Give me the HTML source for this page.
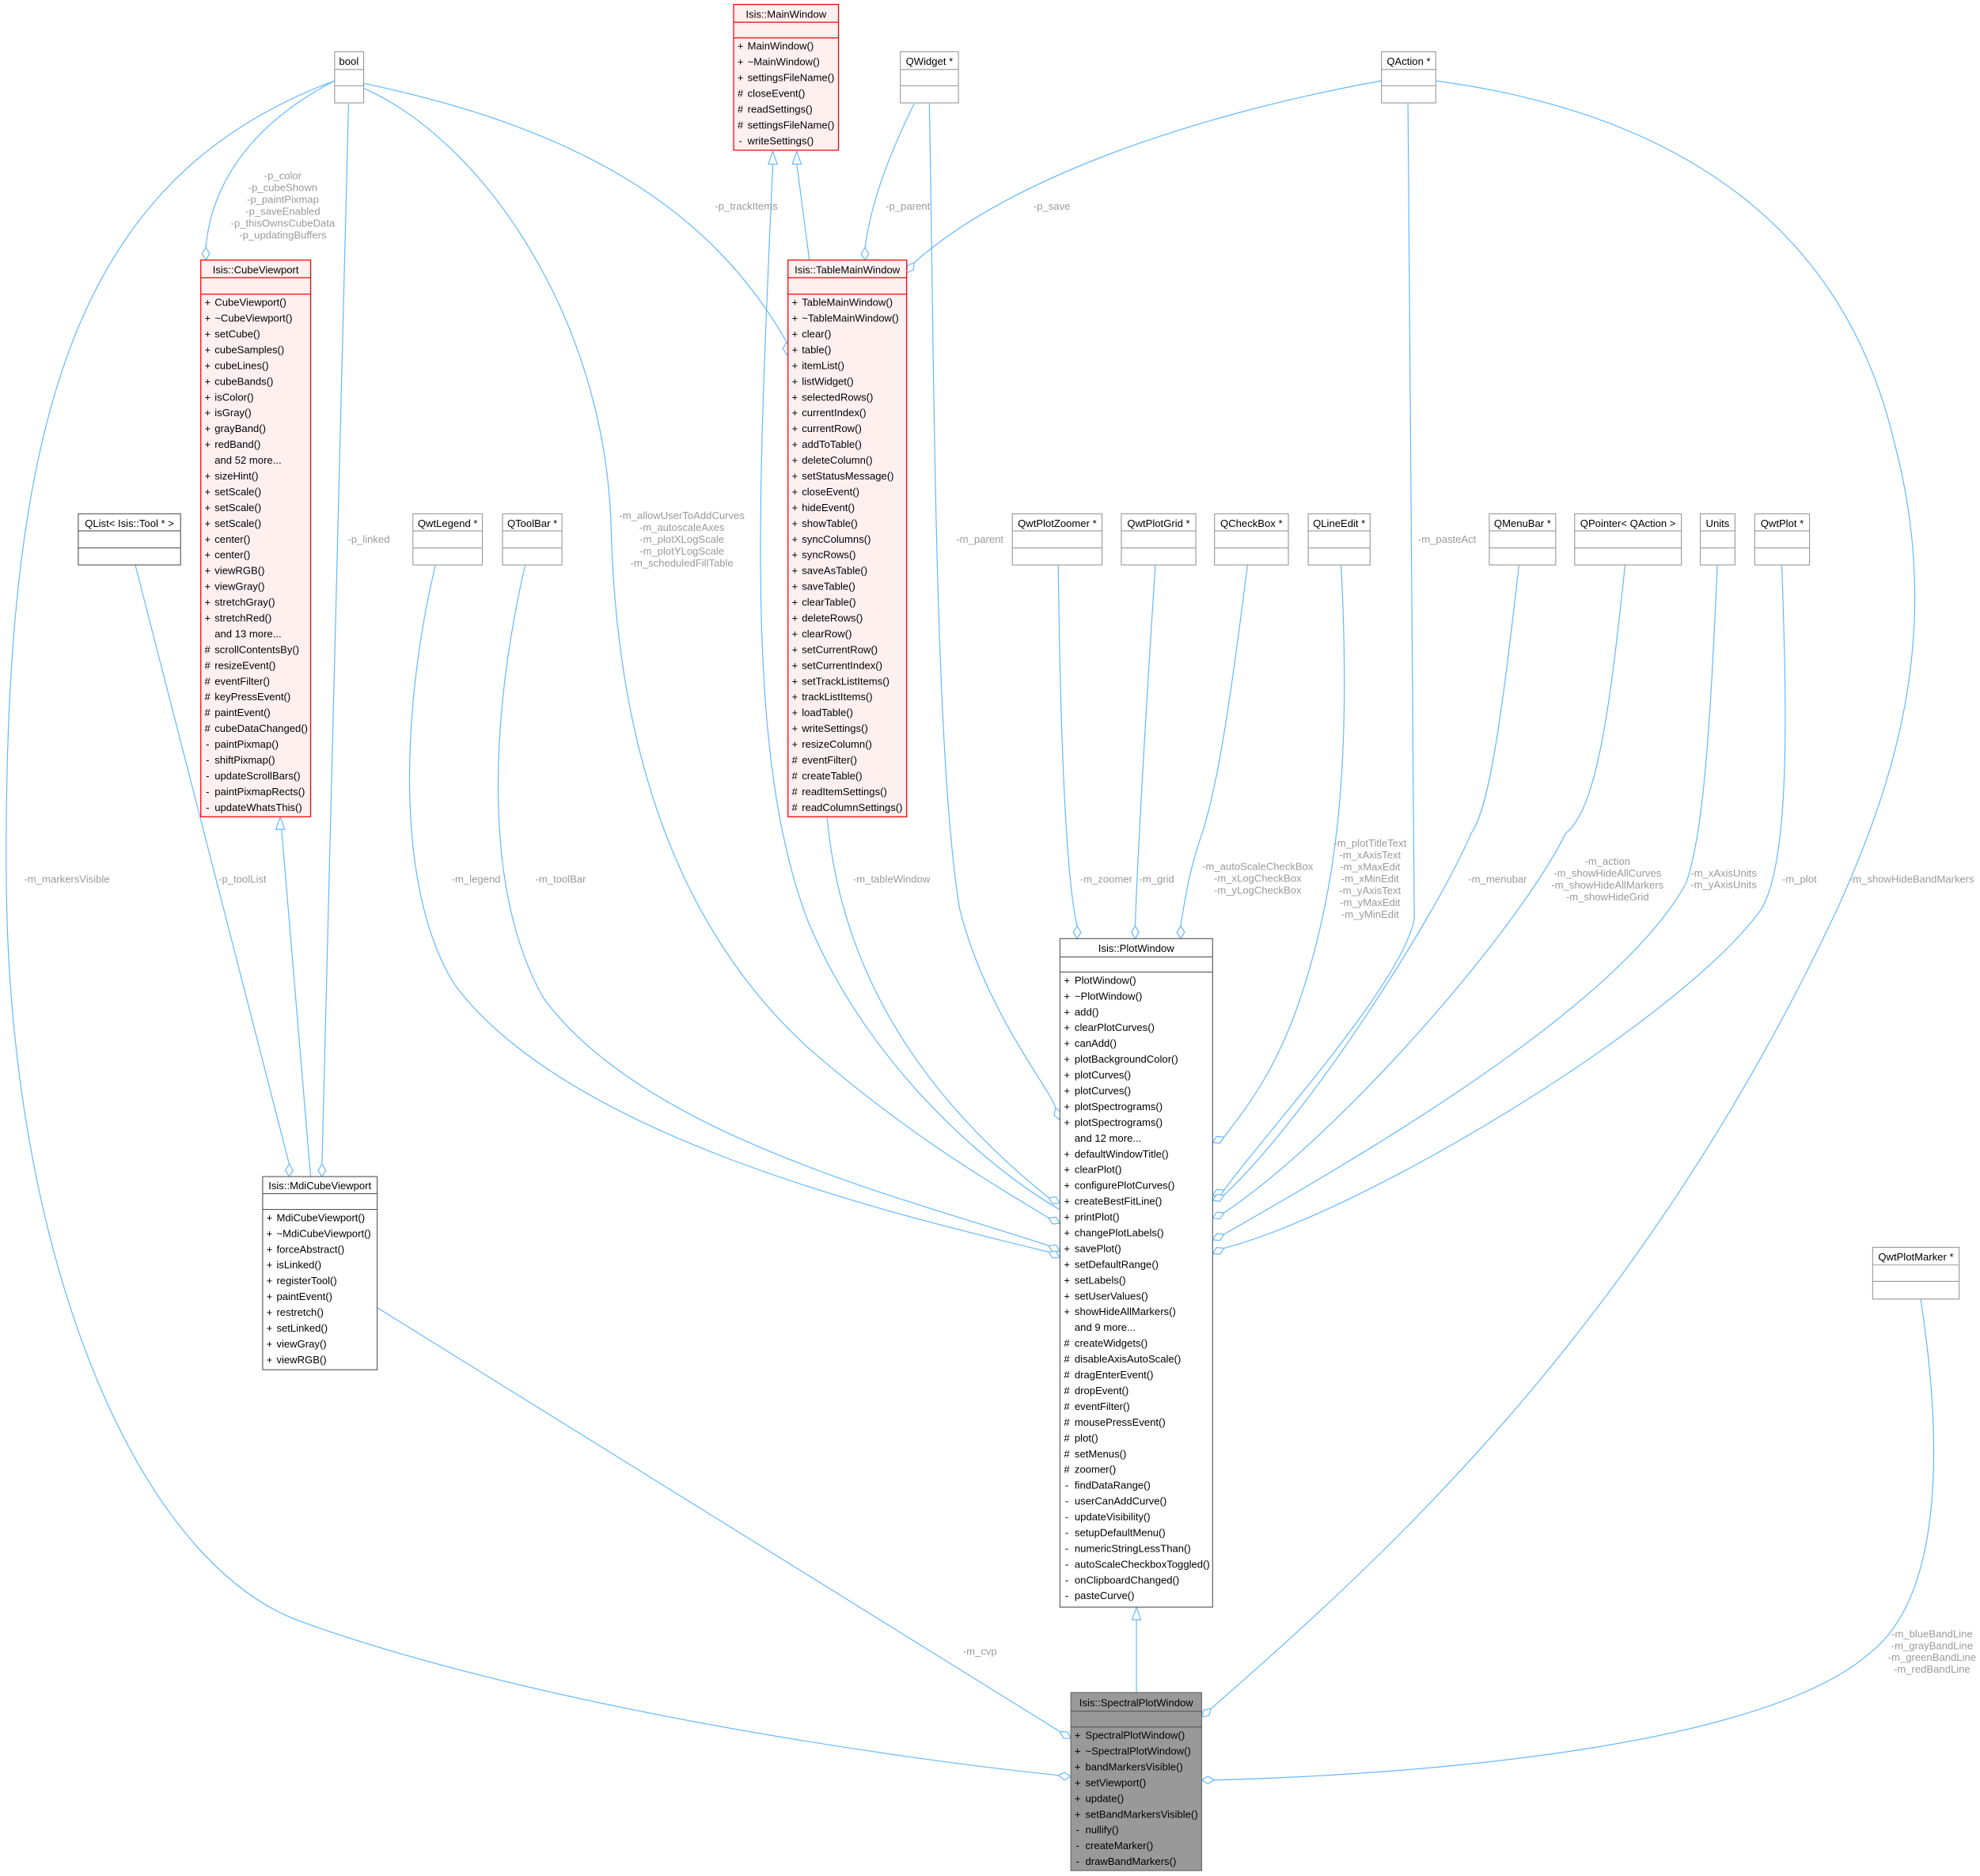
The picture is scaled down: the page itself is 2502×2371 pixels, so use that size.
<!DOCTYPE html>
<html><head><meta charset="utf-8"><style>
html,body{margin:0;padding:0;background:#fff;}
svg{display:block;}
text{font-family:"Liberation Sans",Helvetica,sans-serif;font-size:8.2px;fill:#000;}
.l{fill:#9a9a9a;text-anchor:middle;}
.h{text-anchor:middle;}
.e{fill:none;stroke:#63b8ff;stroke-width:0.75;}
.d{fill:#fff;stroke:#63b8ff;stroke-width:0.75;}
.g{fill:#fff;stroke:#999;stroke-width:0.7;}
.r{fill:#fff0f0;stroke:#ff0000;stroke-width:0.8;}
.rl{stroke:#ff0000;stroke-width:0.8;}
.gl{stroke:#999;stroke-width:0.7;}
.k{fill:#fff;stroke:#555;stroke-width:0.7;}
.kl{stroke:#555;stroke-width:0.7;}
</style></head><body>
<svg width="2502" height="2371" viewBox="0 0 1568 1486" preserveAspectRatio="none" xmlns="http://www.w3.org/2000/svg">
<rect width="1568" height="1486" fill="#fff"/>

<!-- edges -->
<path class="e" d="M265,64 C60,140 2,330 5,700 C8,1000 110,1240 240,1285 C420,1350 700,1392 838,1406.2"/>
<path class="e" d="M265,64 C205,95 168,140 163,196"/>
<path class="e" d="M276,82 L255,922"/>
<path class="e" d="M288,70 C380,110 480,250 484,420 C488,560 520,720 640,830 C720,900 790,940 830.4,964.7"/>
<path class="e" d="M288,66 C450,100 560,160 623,271"/>
<path class="e" d="M724,82 C703,125 690,160 685,196"/>
<path class="e" d="M1094,64 C950,90 800,140 724,208"/>
<path class="e" d="M641,206 L631,130"/>
<path class="e" d="M612,130 C600,400 590,600 640,730 C690,850 790,930 839,958"/>
<path class="e" d="M655,647 C665,760 720,860 830.4,948.7"/>
<path class="e" d="M736,82 C740,300 740,600 760,720 C780,800 830,860 836,877.5"/>
<path class="e" d="M107,447 L229,922"/>
<path class="e" d="M246,932 L223,657"/>
<path class="e" d="M345,447 C320,550 310,700 360,780 C450,900 700,960 830.4,991.7"/>
<path class="e" d="M416,447 C390,560 380,700 430,790 C510,900 720,950 830.4,986.7"/>
<path class="e" d="M299,1036 L839.5,1371.7"/>
<path class="e" d="M838,447 C840,600 845,700 853,733.5"/>
<path class="e" d="M915,447 C905,600 900,700 899,733.5"/>
<path class="e" d="M988,447 C975,550 965,620 952,660 C945,680 940,700 935,733.5"/>
<path class="e" d="M1062,447 C1070,600 1060,700 1030,790 C1010,850 985,880 969.3,900.7"/>
<path class="e" d="M1115,82 L1120,728 C1110,780 1000,900 969.3,942.7"/>
<path class="e" d="M1203,447 C1190,560 1180,640 1165,660 C1140,720 1040,880 969.3,946.7"/>
<path class="e" d="M1287,447 C1275,560 1265,640 1240,660 C1200,740 1060,900 969.3,960.7"/>
<path class="e" d="M1360,447 C1355,560 1350,660 1335,700 C1280,800 1070,920 969.3,977.7"/>
<path class="e" d="M1411,447 C1415,560 1418,680 1395,720 C1330,810 1080,960 969.3,988.7"/>
<path class="e" d="M1137,64 C1330,90 1460,180 1500,350 C1540,500 1500,620 1455,720 C1300,1050 1100,1230 959.1,1353.4"/>
<path class="e" d="M900,1283 L900,1341"/>
<path class="e" d="M1521,1029 C1535,1120 1545,1260 1480,1310 C1400,1380 1150,1405 961.6,1410"/>

<!-- triangles -->
<polygon class="d" points="631,120 627.5,130 634.5,130"/>
<polygon class="d" points="612,120 608.5,130 615.5,130"/>
<polygon class="d" points="222,647 218.5,657 225.5,657"/>
<polygon class="d" points="900,1273 896.5,1283 903.5,1283"/>

<!-- diamonds -->
<polygon class="d" points="163,206 160,201 163,196 166,201"/>
<polygon class="d" points="229,932 226,927 229,922 232,927"/>
<polygon class="d" points="255,932 252,927 255,922 258,927"/>
<polygon class="d" points="685,206 682,201 685,196 688,201"/>
<polygon class="d" points="718,216 723.4,213.8 724,208 718.6,210.2"/>
<polygon class="d" points="623,281 620,276 623,271 626,276"/>
<polygon class="d" points="853,743.5 850,738.5 853,733.5 856,738.5"/>
<polygon class="d" points="899,743.5 896,738.5 899,733.5 902,738.5"/>
<polygon class="d" points="935,743.5 932,738.5 935,733.5 938,738.5"/>
<polygon class="d" points="839,887 840.4,881.4 836,877.5 834.7,883.2"/>
<polygon class="d" points="839.4,953 836.2,948.15 830.4,948.7 833.6,953.55"/>
<polygon class="d" points="839.4,969 836.2,964.15 830.4,964.7 833.6,969.55"/>
<polygon class="d" points="839.4,991 836.2,986.15 830.4,986.7 833.6,991.55"/>
<polygon class="d" points="839.4,996 836.2,991.15 830.4,991.7 833.6,996.55"/>
<polygon class="d" points="960.3,905 966.1,905.55 969.3,900.7 963.5,900.15"/>
<polygon class="d" points="960.3,947 966.1,947.55 969.3,942.7 963.5,942.15"/>
<polygon class="d" points="960.3,951 966.1,951.55 969.3,946.7 963.5,946.15"/>
<polygon class="d" points="960.3,965 966.1,965.55 969.3,960.7 963.5,960.15"/>
<polygon class="d" points="960.3,982 966.1,982.55 969.3,977.7 963.5,977.15"/>
<polygon class="d" points="960.3,993 966.1,993.55 969.3,988.7 963.5,988.15"/>
<polygon class="d" points="848,1377 845.35,1371.8 839.5,1371.7 842.15,1376.9"/>
<polygon class="d" points="848,1407 843,1404 838,1406.2 843,1410"/>
<polygon class="d" points="951.6,1360 957.35,1358.95 959.1,1353.4 953.35,1354.45"/>
<polygon class="d" points="951.6,1410 956.6,1407 961.6,1410 956.6,1413"/>

<!-- edge labels -->
<text class="l" x="224" y="142">-p_color</text>
<text class="l" x="224" y="151.4">-p_cubeShown</text>
<text class="l" x="224" y="160.8">-p_paintPixmap</text>
<text class="l" x="224" y="170.2">-p_saveEnabled</text>
<text class="l" x="224" y="179.6">-p_thisOwnsCubeData</text>
<text class="l" x="224" y="189">-p_updatingBuffers</text>
<text class="l" x="591" y="166">-p_trackItems</text>
<text class="l" x="719" y="166">-p_parent</text>
<text class="l" x="833" y="166">-p_save</text>
<text class="l" x="292" y="430">-p_linked</text>
<text class="l" x="540" y="411">-m_allowUserToAddCurves</text>
<text class="l" x="540" y="420.4">-m_autoscaleAxes</text>
<text class="l" x="540" y="429.8">-m_plotXLogScale</text>
<text class="l" x="540" y="439.2">-m_plotYLogScale</text>
<text class="l" x="540" y="448.6">-m_scheduledFillTable</text>
<text class="l" x="776" y="430">-m_parent</text>
<text class="l" x="1146" y="430">-m_pasteAct</text>
<text class="l" x="53" y="699">-m_markersVisible</text>
<text class="l" x="192" y="699">-p_toolList</text>
<text class="l" x="377" y="699">-m_legend</text>
<text class="l" x="444" y="699">-m_toolBar</text>
<text class="l" x="706" y="699">-m_tableWindow</text>
<text class="l" x="876" y="699">-m_zoomer</text>
<text class="l" x="916" y="699">-m_grid</text>
<text class="l" x="996" y="689">-m_autoScaleCheckBox</text>
<text class="l" x="996" y="698.5">-m_xLogCheckBox</text>
<text class="l" x="996" y="708">-m_yLogCheckBox</text>
<text class="l" x="1085" y="670.5">-m_plotTitleText</text>
<text class="l" x="1085" y="679.9">-m_xAxisText</text>
<text class="l" x="1085" y="689.3">-m_xMaxEdit</text>
<text class="l" x="1085" y="698.7">-m_xMinEdit</text>
<text class="l" x="1085" y="708.1">-m_yAxisText</text>
<text class="l" x="1085" y="717.5">-m_yMaxEdit</text>
<text class="l" x="1085" y="726.9">-m_yMinEdit</text>
<text class="l" x="1186" y="699">-m_menubar</text>
<text class="l" x="1273" y="685">-m_action</text>
<text class="l" x="1273" y="694.4">-m_showHideAllCurves</text>
<text class="l" x="1273" y="703.8">-m_showHideAllMarkers</text>
<text class="l" x="1273" y="713.2">-m_showHideGrid</text>
<text class="l" x="1365" y="694.5">-m_xAxisUnits</text>
<text class="l" x="1365" y="703.5">-m_yAxisUnits</text>
<text class="l" x="1425" y="699">-m_plot</text>
<text class="l" x="1514" y="699">-m_showHideBandMarkers</text>
<text class="l" x="776" y="1310.7">-m_cvp</text>
<text class="l" x="1530" y="1297">-m_blueBandLine</text>
<text class="l" x="1530" y="1306.3">-m_grayBandLine</text>
<text class="l" x="1530" y="1315.6">-m_greenBandLine</text>
<text class="l" x="1530" y="1324.9">-m_redBandLine</text>

<!-- simple gray boxes -->
<rect class="g" x="265" y="41" width="23" height="40.5"/><line class="gl" x1="265" y1="55" x2="288" y2="55"/><line class="gl" x1="265" y1="68" x2="288" y2="68"/><text x="268.5" y="51.5">bool</text>
<rect class="g" x="713" y="41" width="46" height="40.5"/><line class="gl" x1="713" y1="55" x2="759" y2="55"/><line class="gl" x1="713" y1="68" x2="759" y2="68"/><text class="h" x="736" y="51.5">QWidget *</text>
<rect class="g" x="1094" y="41" width="43" height="40.5"/><line class="gl" x1="1094" y1="55" x2="1137" y2="55"/><line class="gl" x1="1094" y1="68" x2="1137" y2="68"/><text class="h" x="1115.5" y="51.5">QAction *</text>

<rect class="k" x="62" y="407" width="81" height="40.5"/><line class="kl" x1="62" y1="420.5" x2="143" y2="420.5"/><line class="kl" x1="62" y1="434" x2="143" y2="434"/><text class="h" x="102.5" y="417.5">QList&lt; Isis::Tool * &gt;</text>
<rect class="g" x="327" y="407" width="55" height="40.5"/><line class="gl" x1="327" y1="420.5" x2="382" y2="420.5"/><line class="gl" x1="327" y1="434" x2="382" y2="434"/><text class="h" x="354.5" y="417.5">QwtLegend *</text>
<rect class="g" x="398" y="407" width="47" height="40.5"/><line class="gl" x1="398" y1="420.5" x2="445" y2="420.5"/><line class="gl" x1="398" y1="434" x2="445" y2="434"/><text class="h" x="421.5" y="417.5">QToolBar *</text>
<rect class="g" x="801.7" y="407" width="71" height="40.5"/><line class="gl" x1="801.7" y1="420.5" x2="872.7" y2="420.5"/><line class="gl" x1="801.7" y1="434" x2="872.7" y2="434"/><text class="h" x="837.2" y="417.5">QwtPlotZoomer *</text>
<rect class="g" x="888" y="407" width="59" height="40.5"/><line class="gl" x1="888" y1="420.5" x2="947" y2="420.5"/><line class="gl" x1="888" y1="434" x2="947" y2="434"/><text class="h" x="917.5" y="417.5">QwtPlotGrid *</text>
<rect class="g" x="961.8" y="407" width="58.5" height="40.5"/><line class="gl" x1="961.8" y1="420.5" x2="1020.3" y2="420.5"/><line class="gl" x1="961.8" y1="434" x2="1020.3" y2="434"/><text class="h" x="991" y="417.5">QCheckBox *</text>
<rect class="g" x="1036" y="407" width="49" height="40.5"/><line class="gl" x1="1036" y1="420.5" x2="1085" y2="420.5"/><line class="gl" x1="1036" y1="434" x2="1085" y2="434"/><text class="h" x="1060.5" y="417.5">QLineEdit *</text>
<rect class="g" x="1179.4" y="407" width="52.6" height="40.5"/><line class="gl" x1="1179.4" y1="420.5" x2="1232" y2="420.5"/><line class="gl" x1="1179.4" y1="434" x2="1232" y2="434"/><text class="h" x="1205.7" y="417.5">QMenuBar *</text>
<rect class="g" x="1247" y="407" width="84.5" height="40.5"/><line class="gl" x1="1247" y1="420.5" x2="1331.5" y2="420.5"/><line class="gl" x1="1247" y1="434" x2="1331.5" y2="434"/><text class="h" x="1289.2" y="417.5">QPointer&lt; QAction &gt;</text>
<rect class="g" x="1346.5" y="407" width="27.5" height="40.5"/><line class="gl" x1="1346.5" y1="420.5" x2="1374" y2="420.5"/><line class="gl" x1="1346.5" y1="434" x2="1374" y2="434"/><text class="h" x="1360.2" y="417.5">Units</text>
<rect class="g" x="1389.6" y="407" width="43.4" height="40.5"/><line class="gl" x1="1389.6" y1="420.5" x2="1433" y2="420.5"/><line class="gl" x1="1389.6" y1="434" x2="1433" y2="434"/><text class="h" x="1411.3" y="417.5">QwtPlot *</text>
<rect class="g" x="1483" y="988" width="68.5" height="41"/><line class="gl" x1="1483" y1="1002" x2="1551.5" y2="1002"/><line class="gl" x1="1483" y1="1015" x2="1551.5" y2="1015"/><text class="h" x="1517.2" y="998.5">QwtPlotMarker *</text>

<!-- MainWindow -->
<rect class="r" x="581" y="3.5" width="83" height="115.5"/>
<line class="rl" x1="581" y1="17.6" x2="664" y2="17.6"/><line class="rl" x1="581" y1="30" x2="664" y2="30"/>
<text class="h" x="622.5" y="14">Isis::MainWindow</text>
<text x="584" y="39.3"><tspan x="584">+</tspan><tspan x="584" dy="12.5">+</tspan><tspan x="584" dy="12.5">+</tspan><tspan x="584" dy="12.5">#</tspan><tspan x="584" dy="12.5">#</tspan><tspan x="584" dy="12.5">#</tspan><tspan x="585" dy="12.5">-</tspan></text>
<text x="592" y="39.3"><tspan x="592">MainWindow()</tspan><tspan x="592" dy="12.5">~MainWindow()</tspan><tspan x="592" dy="12.5">settingsFileName()</tspan><tspan x="592" dy="12.5">closeEvent()</tspan><tspan x="592" dy="12.5">readSettings()</tspan><tspan x="592" dy="12.5">settingsFileName()</tspan><tspan x="592" dy="12.5">writeSettings()</tspan></text>

<!-- CubeViewport -->
<rect class="r" x="159" y="206" width="87" height="441"/>
<line class="rl" x1="159" y1="220" x2="246" y2="220"/><line class="rl" x1="159" y1="233" x2="246" y2="233"/>
<text class="h" x="202.5" y="216.5">Isis::CubeViewport</text>
<text x="162" y="242.3"><tspan x="162">+</tspan><tspan x="162" dy="12.5">+</tspan><tspan x="162" dy="12.5">+</tspan><tspan x="162" dy="12.5">+</tspan><tspan x="162" dy="12.5">+</tspan><tspan x="162" dy="12.5">+</tspan><tspan x="162" dy="12.5">+</tspan><tspan x="162" dy="12.5">+</tspan><tspan x="162" dy="12.5">+</tspan><tspan x="162" dy="12.5">+</tspan><tspan x="162" dy="12.5"> </tspan><tspan x="162" dy="12.5">+</tspan><tspan x="162" dy="12.5">+</tspan><tspan x="162" dy="12.5">+</tspan><tspan x="162" dy="12.5">+</tspan><tspan x="162" dy="12.5">+</tspan><tspan x="162" dy="12.5">+</tspan><tspan x="162" dy="12.5">+</tspan><tspan x="162" dy="12.5">+</tspan><tspan x="162" dy="12.5">+</tspan><tspan x="162" dy="12.5">+</tspan><tspan x="162" dy="12.5"> </tspan><tspan x="162" dy="12.5">#</tspan><tspan x="162" dy="12.5">#</tspan><tspan x="162" dy="12.5">#</tspan><tspan x="162" dy="12.5">#</tspan><tspan x="162" dy="12.5">#</tspan><tspan x="162" dy="12.5">#</tspan><tspan x="163" dy="12.5">-</tspan><tspan x="163" dy="12.5">-</tspan><tspan x="163" dy="12.5">-</tspan><tspan x="163" dy="12.5">-</tspan><tspan x="163" dy="12.5">-</tspan></text>
<text x="170" y="242.3"><tspan x="170">CubeViewport()</tspan><tspan x="170" dy="12.5">~CubeViewport()</tspan><tspan x="170" dy="12.5">setCube()</tspan><tspan x="170" dy="12.5">cubeSamples()</tspan><tspan x="170" dy="12.5">cubeLines()</tspan><tspan x="170" dy="12.5">cubeBands()</tspan><tspan x="170" dy="12.5">isColor()</tspan><tspan x="170" dy="12.5">isGray()</tspan><tspan x="170" dy="12.5">grayBand()</tspan><tspan x="170" dy="12.5">redBand()</tspan><tspan x="170" dy="12.5">and 52 more...</tspan><tspan x="170" dy="12.5">sizeHint()</tspan><tspan x="170" dy="12.5">setScale()</tspan><tspan x="170" dy="12.5">setScale()</tspan><tspan x="170" dy="12.5">setScale()</tspan><tspan x="170" dy="12.5">center()</tspan><tspan x="170" dy="12.5">center()</tspan><tspan x="170" dy="12.5">viewRGB()</tspan><tspan x="170" dy="12.5">viewGray()</tspan><tspan x="170" dy="12.5">stretchGray()</tspan><tspan x="170" dy="12.5">stretchRed()</tspan><tspan x="170" dy="12.5">and 13 more...</tspan><tspan x="170" dy="12.5">scrollContentsBy()</tspan><tspan x="170" dy="12.5">resizeEvent()</tspan><tspan x="170" dy="12.5">eventFilter()</tspan><tspan x="170" dy="12.5">keyPressEvent()</tspan><tspan x="170" dy="12.5">paintEvent()</tspan><tspan x="170" dy="12.5">cubeDataChanged()</tspan><tspan x="170" dy="12.5">paintPixmap()</tspan><tspan x="170" dy="12.5">shiftPixmap()</tspan><tspan x="170" dy="12.5">updateScrollBars()</tspan><tspan x="170" dy="12.5">paintPixmapRects()</tspan><tspan x="170" dy="12.5">updateWhatsThis()</tspan></text>

<!-- TableMainWindow -->
<rect class="r" x="624" y="206" width="94" height="441"/>
<line class="rl" x1="624" y1="220" x2="718" y2="220"/><line class="rl" x1="624" y1="233" x2="718" y2="233"/>
<text class="h" x="671" y="216.5">Isis::TableMainWindow</text>
<text x="627" y="242.3"><tspan x="627">+</tspan><tspan x="627" dy="12.5">+</tspan><tspan x="627" dy="12.5">+</tspan><tspan x="627" dy="12.5">+</tspan><tspan x="627" dy="12.5">+</tspan><tspan x="627" dy="12.5">+</tspan><tspan x="627" dy="12.5">+</tspan><tspan x="627" dy="12.5">+</tspan><tspan x="627" dy="12.5">+</tspan><tspan x="627" dy="12.5">+</tspan><tspan x="627" dy="12.5">+</tspan><tspan x="627" dy="12.5">+</tspan><tspan x="627" dy="12.5">+</tspan><tspan x="627" dy="12.5">+</tspan><tspan x="627" dy="12.5">+</tspan><tspan x="627" dy="12.5">+</tspan><tspan x="627" dy="12.5">+</tspan><tspan x="627" dy="12.5">+</tspan><tspan x="627" dy="12.5">+</tspan><tspan x="627" dy="12.5">+</tspan><tspan x="627" dy="12.5">+</tspan><tspan x="627" dy="12.5">+</tspan><tspan x="627" dy="12.5">+</tspan><tspan x="627" dy="12.5">+</tspan><tspan x="627" dy="12.5">+</tspan><tspan x="627" dy="12.5">+</tspan><tspan x="627" dy="12.5">+</tspan><tspan x="627" dy="12.5">+</tspan><tspan x="627" dy="12.5">+</tspan><tspan x="627" dy="12.5">#</tspan><tspan x="627" dy="12.5">#</tspan><tspan x="627" dy="12.5">#</tspan><tspan x="627" dy="12.5">#</tspan></text>
<text x="635" y="242.3"><tspan x="635">TableMainWindow()</tspan><tspan x="635" dy="12.5">~TableMainWindow()</tspan><tspan x="635" dy="12.5">clear()</tspan><tspan x="635" dy="12.5">table()</tspan><tspan x="635" dy="12.5">itemList()</tspan><tspan x="635" dy="12.5">listWidget()</tspan><tspan x="635" dy="12.5">selectedRows()</tspan><tspan x="635" dy="12.5">currentIndex()</tspan><tspan x="635" dy="12.5">currentRow()</tspan><tspan x="635" dy="12.5">addToTable()</tspan><tspan x="635" dy="12.5">deleteColumn()</tspan><tspan x="635" dy="12.5">setStatusMessage()</tspan><tspan x="635" dy="12.5">closeEvent()</tspan><tspan x="635" dy="12.5">hideEvent()</tspan><tspan x="635" dy="12.5">showTable()</tspan><tspan x="635" dy="12.5">syncColumns()</tspan><tspan x="635" dy="12.5">syncRows()</tspan><tspan x="635" dy="12.5">saveAsTable()</tspan><tspan x="635" dy="12.5">saveTable()</tspan><tspan x="635" dy="12.5">clearTable()</tspan><tspan x="635" dy="12.5">deleteRows()</tspan><tspan x="635" dy="12.5">clearRow()</tspan><tspan x="635" dy="12.5">setCurrentRow()</tspan><tspan x="635" dy="12.5">setCurrentIndex()</tspan><tspan x="635" dy="12.5">setTrackListItems()</tspan><tspan x="635" dy="12.5">trackListItems()</tspan><tspan x="635" dy="12.5">loadTable()</tspan><tspan x="635" dy="12.5">writeSettings()</tspan><tspan x="635" dy="12.5">resizeColumn()</tspan><tspan x="635" dy="12.5">eventFilter()</tspan><tspan x="635" dy="12.5">createTable()</tspan><tspan x="635" dy="12.5">readItemSettings()</tspan><tspan x="635" dy="12.5">readColumnSettings()</tspan></text>

<!-- MdiCubeViewport -->
<rect class="k" x="208" y="932" width="90.7" height="153"/>
<line class="kl" x1="208" y1="945.5" x2="298.7" y2="945.5"/><line class="kl" x1="208" y1="958" x2="298.7" y2="958"/>
<text class="h" x="253.3" y="942">Isis::MdiCubeViewport</text>
<text x="211" y="967.3"><tspan x="211">+</tspan><tspan x="211" dy="12.5">+</tspan><tspan x="211" dy="12.5">+</tspan><tspan x="211" dy="12.5">+</tspan><tspan x="211" dy="12.5">+</tspan><tspan x="211" dy="12.5">+</tspan><tspan x="211" dy="12.5">+</tspan><tspan x="211" dy="12.5">+</tspan><tspan x="211" dy="12.5">+</tspan><tspan x="211" dy="12.5">+</tspan></text>
<text x="219" y="967.3"><tspan x="219">MdiCubeViewport()</tspan><tspan x="219" dy="12.5">~MdiCubeViewport()</tspan><tspan x="219" dy="12.5">forceAbstract()</tspan><tspan x="219" dy="12.5">isLinked()</tspan><tspan x="219" dy="12.5">registerTool()</tspan><tspan x="219" dy="12.5">paintEvent()</tspan><tspan x="219" dy="12.5">restretch()</tspan><tspan x="219" dy="12.5">setLinked()</tspan><tspan x="219" dy="12.5">viewGray()</tspan><tspan x="219" dy="12.5">viewRGB()</tspan></text>

<!-- PlotWindow -->
<rect class="k" x="839.4" y="743.5" width="120.9" height="529.5"/>
<line class="kl" x1="839.4" y1="758" x2="960.3" y2="758"/><line class="kl" x1="839.4" y1="770" x2="960.3" y2="770"/>
<text class="h" x="899.8" y="754">Isis::PlotWindow</text>
<text x="842.5" y="779.3"><tspan x="842.5">+</tspan><tspan x="842.5" dy="12.5">+</tspan><tspan x="842.5" dy="12.5">+</tspan><tspan x="842.5" dy="12.5">+</tspan><tspan x="842.5" dy="12.5">+</tspan><tspan x="842.5" dy="12.5">+</tspan><tspan x="842.5" dy="12.5">+</tspan><tspan x="842.5" dy="12.5">+</tspan><tspan x="842.5" dy="12.5">+</tspan><tspan x="842.5" dy="12.5">+</tspan><tspan x="842.5" dy="12.5"> </tspan><tspan x="842.5" dy="12.5">+</tspan><tspan x="842.5" dy="12.5">+</tspan><tspan x="842.5" dy="12.5">+</tspan><tspan x="842.5" dy="12.5">+</tspan><tspan x="842.5" dy="12.5">+</tspan><tspan x="842.5" dy="12.5">+</tspan><tspan x="842.5" dy="12.5">+</tspan><tspan x="842.5" dy="12.5">+</tspan><tspan x="842.5" dy="12.5">+</tspan><tspan x="842.5" dy="12.5">+</tspan><tspan x="842.5" dy="12.5">+</tspan><tspan x="842.5" dy="12.5"> </tspan><tspan x="842.5" dy="12.5">#</tspan><tspan x="842.5" dy="12.5">#</tspan><tspan x="842.5" dy="12.5">#</tspan><tspan x="842.5" dy="12.5">#</tspan><tspan x="842.5" dy="12.5">#</tspan><tspan x="842.5" dy="12.5">#</tspan><tspan x="842.5" dy="12.5">#</tspan><tspan x="842.5" dy="12.5">#</tspan><tspan x="842.5" dy="12.5">#</tspan><tspan x="843.5" dy="12.5">-</tspan><tspan x="843.5" dy="12.5">-</tspan><tspan x="843.5" dy="12.5">-</tspan><tspan x="843.5" dy="12.5">-</tspan><tspan x="843.5" dy="12.5">-</tspan><tspan x="843.5" dy="12.5">-</tspan><tspan x="843.5" dy="12.5">-</tspan><tspan x="843.5" dy="12.5">-</tspan></text>
<text x="851" y="779.3"><tspan x="851">PlotWindow()</tspan><tspan x="851" dy="12.5">~PlotWindow()</tspan><tspan x="851" dy="12.5">add()</tspan><tspan x="851" dy="12.5">clearPlotCurves()</tspan><tspan x="851" dy="12.5">canAdd()</tspan><tspan x="851" dy="12.5">plotBackgroundColor()</tspan><tspan x="851" dy="12.5">plotCurves()</tspan><tspan x="851" dy="12.5">plotCurves()</tspan><tspan x="851" dy="12.5">plotSpectrograms()</tspan><tspan x="851" dy="12.5">plotSpectrograms()</tspan><tspan x="851" dy="12.5">and 12 more...</tspan><tspan x="851" dy="12.5">defaultWindowTitle()</tspan><tspan x="851" dy="12.5">clearPlot()</tspan><tspan x="851" dy="12.5">configurePlotCurves()</tspan><tspan x="851" dy="12.5">createBestFitLine()</tspan><tspan x="851" dy="12.5">printPlot()</tspan><tspan x="851" dy="12.5">changePlotLabels()</tspan><tspan x="851" dy="12.5">savePlot()</tspan><tspan x="851" dy="12.5">setDefaultRange()</tspan><tspan x="851" dy="12.5">setLabels()</tspan><tspan x="851" dy="12.5">setUserValues()</tspan><tspan x="851" dy="12.5">showHideAllMarkers()</tspan><tspan x="851" dy="12.5">and 9 more...</tspan><tspan x="851" dy="12.5">createWidgets()</tspan><tspan x="851" dy="12.5">disableAxisAutoScale()</tspan><tspan x="851" dy="12.5">dragEnterEvent()</tspan><tspan x="851" dy="12.5">dropEvent()</tspan><tspan x="851" dy="12.5">eventFilter()</tspan><tspan x="851" dy="12.5">mousePressEvent()</tspan><tspan x="851" dy="12.5">plot()</tspan><tspan x="851" dy="12.5">setMenus()</tspan><tspan x="851" dy="12.5">zoomer()</tspan><tspan x="851" dy="12.5">findDataRange()</tspan><tspan x="851" dy="12.5">userCanAddCurve()</tspan><tspan x="851" dy="12.5">updateVisibility()</tspan><tspan x="851" dy="12.5">setupDefaultMenu()</tspan><tspan x="851" dy="12.5">numericStringLessThan()</tspan><tspan x="851" dy="12.5">autoScaleCheckboxToggled()</tspan><tspan x="851" dy="12.5">onClipboardChanged()</tspan><tspan x="851" dy="12.5">pasteCurve()</tspan></text>

<!-- SpectralPlotWindow -->
<rect x="848" y="1340.7" width="103.6" height="141" fill="#999" stroke="#666" stroke-width="0.7"/>
<line class="kl" x1="848" y1="1355.5" x2="951.6" y2="1355.5"/><line class="kl" x1="848" y1="1368" x2="951.6" y2="1368"/>
<text class="h" x="899.8" y="1351.5">Isis::SpectralPlotWindow</text>
<text x="851" y="1377.3"><tspan x="851">+</tspan><tspan x="851" dy="12.5">+</tspan><tspan x="851" dy="12.5">+</tspan><tspan x="851" dy="12.5">+</tspan><tspan x="851" dy="12.5">+</tspan><tspan x="851" dy="12.5">+</tspan><tspan x="852" dy="12.5">-</tspan><tspan x="852" dy="12.5">-</tspan><tspan x="852" dy="12.5">-</tspan></text>
<text x="859.5" y="1377.3"><tspan x="859.5">SpectralPlotWindow()</tspan><tspan x="859.5" dy="12.5">~SpectralPlotWindow()</tspan><tspan x="859.5" dy="12.5">bandMarkersVisible()</tspan><tspan x="859.5" dy="12.5">setViewport()</tspan><tspan x="859.5" dy="12.5">update()</tspan><tspan x="859.5" dy="12.5">setBandMarkersVisible()</tspan><tspan x="859.5" dy="12.5">nullify()</tspan><tspan x="859.5" dy="12.5">createMarker()</tspan><tspan x="859.5" dy="12.5">drawBandMarkers()</tspan></text>
</svg>
</body></html>
